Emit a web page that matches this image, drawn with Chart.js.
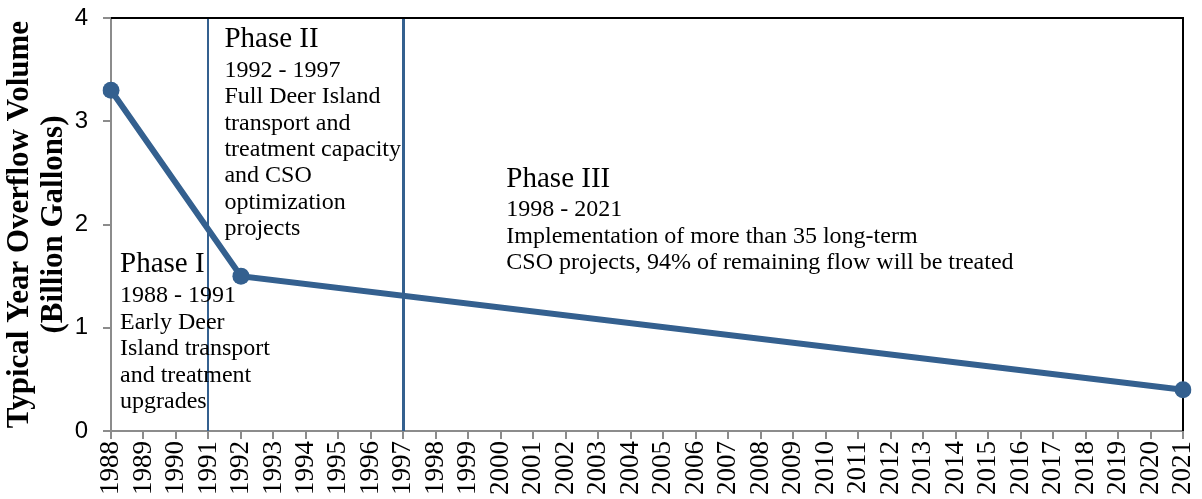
<!DOCTYPE html>
<html>
<head>
<meta charset="utf-8">
<script src="https://cdn.jsdelivr.net/npm/chart.js@4"></script>
<style>
  html, body { margin: 0; padding: 0; background: #fff; overflow: hidden; }
  #wrap { width: 1202px; height: 499px; }
</style>
</head>
<body>
<div id="wrap"><canvas id="cso"></canvas></div>
<script>
// years on the x axis
const years = [];
for (let y = 1988; y <= 2021; y++) years.push(String(y));

// overflow volume (billion gallons), only the milestone years are known
const volumeByYear = { "1988": 3.3, "1992": 1.5, "2021": 0.4 };
const volume = years.map(y => (y in volumeByYear ? volumeByYear[y] : null));

const yTicks = [0, 1, 2, 3, 4];

// phase boundaries (vertical lines)
const boundaryYears = ["1991", "1997"];
const boundaryWidths = [2, 3];

// phase notes
const phaseNames = ["Phase I", "Phase II", "Phase III"];
const phaseNotes = [
    ["1988 - 1991", "Early Deer", "Island transport", "and treatment", "upgrades"],
    ["1992 - 1997", "Full Deer Island", "transport and", "treatment capacity", "and CSO", "optimization", "projects"],
    ["1998 - 2021", "Implementation of more than 35 long-term", "CSO projects, 94% of remaining flow will be treated"]
];

const blue = "#34608F";
const serif = "'Liberation Serif', 'Times New Roman', serif";

// note placement: [year it hangs off, dx, heading baseline, first line baseline, line step] (px from chart top)
const noteAnchors = [
    ["1988", 9, 254, 284, 26.6],
    ["1991", 16, 29, 59, 26.3],
    ["1997", 103, 169, 198, 26.5]
];

const phasePlugin = {
    id: "phases",
    beforeDatasetsDraw(chart) {
        const { ctx, chartArea, scales } = chart;
        ctx.save();
        boundaryYears.forEach((yr, i) => {
            const x = Math.round(scales.x.getPixelForValue(years.indexOf(yr))) + (boundaryWidths[i] % 2 ? 0.5 : 0);
            ctx.strokeStyle = blue;
            ctx.lineWidth = boundaryWidths[i];
            ctx.beginPath();
            ctx.moveTo(x, chartArea.top);
            ctx.lineTo(x, chartArea.bottom);
            ctx.stroke();
        });
        // black frame on top and right
        ctx.strokeStyle = "#000";
        ctx.lineWidth = 2;
        ctx.beginPath();
        ctx.moveTo(chartArea.left, chartArea.top);
        ctx.lineTo(chartArea.right, chartArea.top);
        ctx.lineTo(chartArea.right, chartArea.bottom);
        ctx.stroke();
        ctx.restore();
    },
    afterDatasetsDraw(chart) {
        const { ctx, chartArea, scales } = chart;
        ctx.save();
        ctx.fillStyle = "#000";
        ctx.textAlign = "left";
        ctx.textBaseline = "alphabetic";
        phaseNames.forEach((name, i) => {
            const [yr, dx, head, first, step] = noteAnchors[i];
            const x = scales.x.getPixelForValue(years.indexOf(yr)) + dx;
            ctx.font = "29px " + serif;
            ctx.fillText(name, x, chartArea.top + head);
            ctx.font = "24px " + serif;
            phaseNotes[i].forEach((line, j) => {
                ctx.fillText(line, x, chartArea.top + first + j * step);
            });
        });
        ctx.restore();
    }
};

new Chart(document.getElementById("cso"), {
    type: "line",
    data: {
        labels: years,
        datasets: [{
            data: volume,
            borderColor: blue,
            backgroundColor: blue,
            borderWidth: 6,
            pointRadius: 8.5,
            pointHoverRadius: 8.5,
            pointBorderWidth: 0,
            spanGaps: true,
            tension: 0
        }]
    },
    options: {
        responsive: true,
        maintainAspectRatio: false,
        animation: false,
        events: [],
        layout: { padding: { top: 18, right: 19, bottom: 0, left: 0 } },
        plugins: { legend: { display: false }, tooltip: { enabled: false } },
        scales: {
            x: {
                offset: false,
                afterFit: axis => {
                    axis.height = 68;
                    axis.paddingLeft = 0;
                    axis.paddingRight = 0;
                },
                grid: { drawOnChartArea: false, drawTicks: true, tickLength: 8, color: "#8c8c8c", lineWidth: 2 },
                border: { color: "#8c8c8c", width: 2 },
                ticks: {
                    autoSkip: false, minRotation: 90, maxRotation: 90, padding: 2,
                    color: "#000", font: { family: serif, size: 27 }
                }
            },
            y: {
                min: 0, max: 4,
                afterFit: axis => {
                    axis.width = 111;
                    axis.paddingTop = 0;
                    axis.paddingBottom = 0;
                },
                afterBuildTicks: axis => { axis.ticks = yTicks.map(v => ({ value: v })); },
                grid: { drawOnChartArea: false, drawTicks: true, tickLength: 8, color: "#8c8c8c", lineWidth: 2 },
                border: { color: "#8c8c8c", width: 2 },
                ticks: { padding: 15, color: "#000", font: { family: "'Liberation Sans', Arial, sans-serif", size: 24 } },
                title: {
                    display: true,
                    text: ["Typical Year Overflow Volume", "(Billion Gallons)"],
                    color: "#000",
                    padding: { top: 2.5, bottom: 0 },
                    font: { family: serif, size: 31, weight: "bold", lineHeight: 1.1 }
                }
            }
        }
    },
    plugins: [phasePlugin]
});
</script>
</body>
</html>
